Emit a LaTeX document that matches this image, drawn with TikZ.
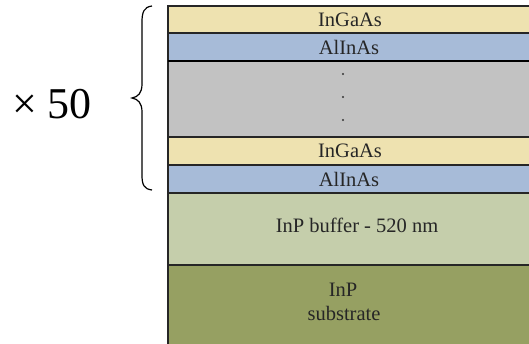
\documentclass[tikz,border=0pt]{standalone}
\usepackage{fontspec}
\setmainfont{Liberation Serif}
\begin{document}
\begin{tikzpicture}[x=1pt,y=-1pt,
  layer/.style={draw=black!85,line width=1.3pt},
  lbl/.style={font=\fontsize{20.5}{23}\selectfont,text=black!85,inner sep=0pt},
  dotmark/.style={circle,fill=black!80,inner sep=0pt,minimum size=2.2pt}]
\useasboundingbox (0,0) rectangle (529,343);
\clip (0,0) rectangle (529,343);
\definecolor{ingaas}{RGB}{238,226,176}
\definecolor{alinas}{RGB}{167,187,216}
\definecolor{sprgray}{RGB}{194,194,194}
\definecolor{buffer}{RGB}{197,206,171}
\definecolor{subst}{RGB}{150,160,98}
% stack of layers
\filldraw[layer,fill=subst]  (168,265) rectangle (540,350);
\filldraw[layer,fill=buffer] (168,193) rectangle (540,265);
\filldraw[layer,fill=alinas] (168,165) rectangle (540,193);
\filldraw[layer,fill=ingaas] (168,137) rectangle (540,165);
\filldraw[layer,fill=sprgray](168,61)  rectangle (540,137);
\filldraw[layer,fill=alinas] (168,33)  rectangle (540,61);
\filldraw[layer,fill=ingaas] (168,6)   rectangle (540,33);
\draw[black,line width=1.8pt] (168,61) -- (540,61);
% labels
\node[lbl] (l1) at (350,19.5) {InGaAs};
\node[lbl] (l2) at (349,47) {AlInAs};
\node[dotmark] (d1) at (343,74) {};
\node[dotmark] (d2) at (343,97) {};
\node[dotmark] (d3) at (343,120) {};
\node[lbl] (l3) at (350,151) {InGaAs};
\node[lbl] (l4) at (349,179) {AlInAs};
\node[lbl] (l5) at (357,225) {InP buffer - 520 nm};
\node[lbl] (l6) at (343,290) {InP};
\node[lbl] (l7) at (344,313) {substrate};
% repetition brace
\draw[black,line width=1.2pt]
  (152,6) .. controls (144,7) and (142,12) .. (142,22)
  -- (142,84) .. controls (142,93) and (138,97) .. (132,98)
  .. controls (138,99) and (142,103) .. (142,112)
  -- (142,175) .. controls (142,185) and (144,189) .. (152,190);
\node[font=\fontsize{44}{48}\selectfont,inner sep=0pt,anchor=base] (rep) at (52,118) {×~50};
\end{tikzpicture}
\end{document}
